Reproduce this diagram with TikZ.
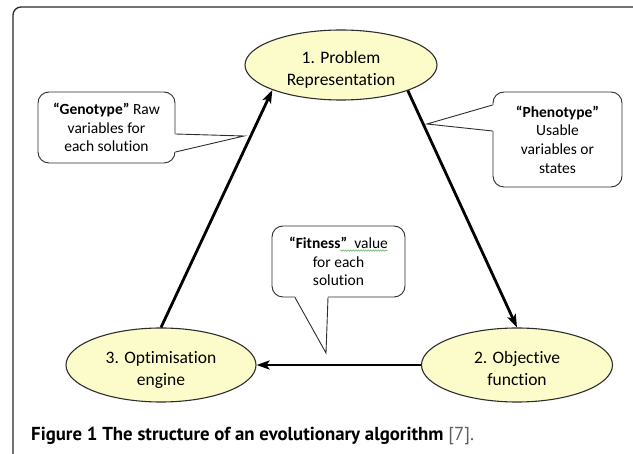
\documentclass[tikz,border=0pt]{standalone}
\usepackage{fontspec}
\setmainfont[Ligatures={NoCommon}]{Carlito}
\newfontfamily\capfont{PT Sans}
\usetikzlibrary{arrows.meta,calc,shapes.geometric,decorations.pathmorphing}

\definecolor{stagefill}{RGB}{252,252,202}
\definecolor{edgegray}{RGB}{45,45,45}
\definecolor{framegray}{RGB}{40,40,40}
\definecolor{citegray}{RGB}{95,95,95}
\definecolor{spellgreen}{RGB}{90,170,90}

\tikzset{
  stage/.style={ellipse, draw=edgegray, line width=1.1pt, fill=stagefill,
    inner sep=0pt, align=center, text height=44pt, text depth=2pt,
    font=\fontsize{17.5}{22.5}\selectfont},
  callbox/.style={rectangle, rounded corners=11pt, draw=edgegray, line width=0.9pt,
    fill=white, inner sep=0pt, align=center,
    font=\fontsize{15.5}{18.6}\selectfont},
  pointer/.style={draw=edgegray, line width=0.9pt, line join=miter},
  flow/.style={line width=2.8pt, -{Stealth[length=13pt, width=9pt, inset=3pt]}},
}

\begin{document}
\begin{tikzpicture}[x=1pt, y=-1pt]
\useasboundingbox (0,0) rectangle (633,454);

% outer frame, running off the right and bottom edges
\draw[framegray, line width=1.3pt, rounded corners=8pt] (13,7) rectangle (641,462);

% the three stages of the loop
\node[stage, minimum width=192pt, minimum height=70pt] (s1) at (341,65)
  {1. Problem\\Representation};
\node[stage, minimum width=191pt, minimum height=74pt] (s2) at (517,365)
  {2. Objective\\function};
\node[stage, minimum width=190pt, minimum height=74pt] (s3) at (161,365)
  {3. Optimisation\\engine};

% flow between the stages
\draw[flow] (s3.north) -- (s1.200);
\draw[flow] (s1.-21) -- (s2.north);
\draw[flow] (s2.west) -- (s3.east);

% callout boxes
\node[callbox, minimum width=137pt, minimum height=71pt] (geno) at (106.5,127.5)
  {\textbf{“Genotype”} Raw\\variables for\\each solution};
\node[callbox, minimum width=129pt, minimum height=95pt] (pheno) at (557.5,139.5)
  {\textbf{“Phenotype”}\\Usable\\variables or\\states};
\node[callbox, minimum width=133pt, minimum height=71pt] (fit) at (338.5,261.5)
  {\textbf{“Fitness”}\ \ value\\for each\\solution};

% callout pointers
\coordinate (genotip) at (244,136);
\coordinate (phenotip) at (427,124);
\coordinate (fittip) at (326,353);

\coordinate (ga) at ($(geno.east)+(0,6.5)$);
\coordinate (gb) at ($(geno.east)+(0,24.5)$);
\fill[white] ($(ga)+(-1.5,0)$) -- (genotip) -- ($(gb)+(-1.5,0)$) -- cycle;
\draw[pointer] (ga) -- (genotip) -- (gb);

\coordinate (pa) at ($(pheno.west)+(0,-34.5)$);
\coordinate (pb) at ($(pheno.west)+(0,-8.5)$);
\fill[white] ($(pa)+(1.5,0)$) -- (phenotip) -- ($(pb)+(1.5,0)$) -- cycle;
\draw[pointer] (pa) -- (phenotip) -- (pb);

\coordinate (fa) at ($(fit.south)+(-43.5,0)$);
\coordinate (fb) at ($(fit.south)+(-10.5,0)$);
\fill[white] ($(fa)+(0,-1.5)$) -- (fittip) -- ($(fb)+(0,-1.5)$) -- cycle;
\draw[pointer] (fa) -- (fittip) -- (fb);

% spell-check squiggle under "value"
\draw[spellgreen, line width=0.5pt,
  decorate, decoration={snake, amplitude=0.7pt, segment length=2.5pt}]
  ($(fit.north)+(1.5,25)$) -- ($(fit.north)+(49,25)$);

% caption
\node[anchor=base west, inner sep=0pt,
  font=\capfont\bfseries\fontsize{18.8}{22}\selectfont] (caption) at (31,441)
  {Figure 1 The structure of an evolutionary algorithm {\mdseries\color{citegray}[7].}};
\end{tikzpicture}
\end{document}
